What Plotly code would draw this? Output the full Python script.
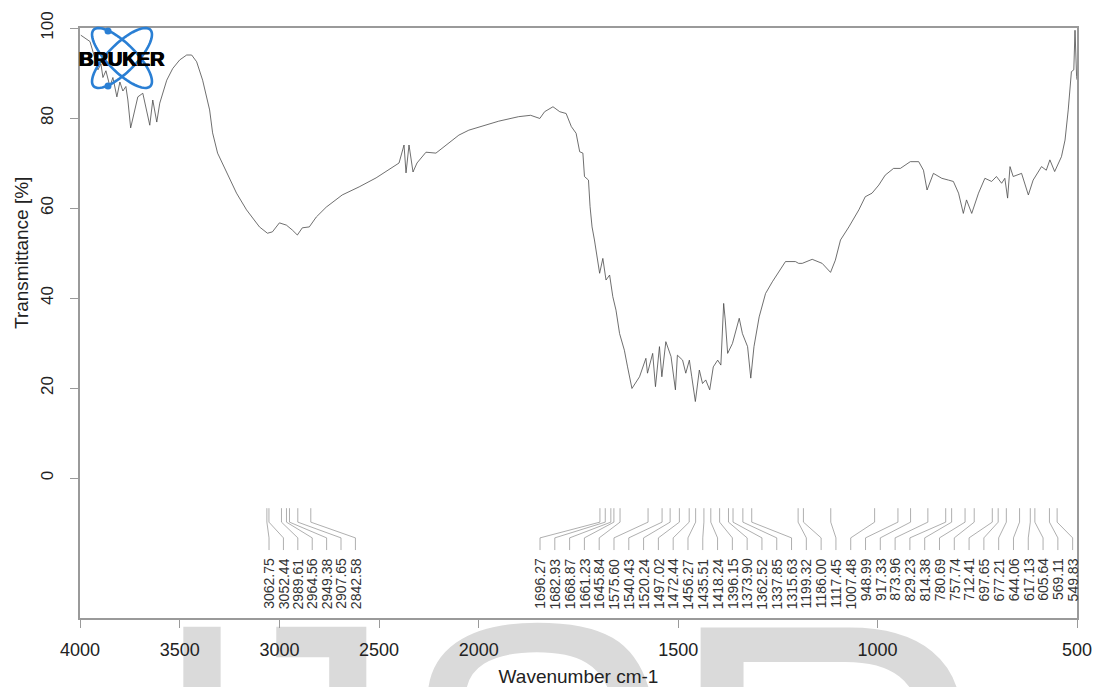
import numpy as np
import plotly.graph_objects as go

# ---------------- data ----------------
wavenumber = [3996, 3975, 3950, 3930, 3910, 3895, 3885, 3870, 3850, 3835, 3815, 3800, 3785, 3770,
              3760, 3746, 3730, 3710, 3685, 3665, 3650, 3635, 3615, 3600, 3585, 3565, 3535, 3500,
              3465, 3440, 3415, 3385, 3350, 3335, 3310, 3265, 3215, 3165, 3100, 3060, 3035, 3000,
              2965, 2935, 2910, 2885, 2850, 2815, 2765, 2685, 2600, 2515, 2435, 2400, 2375, 2365,
              2350, 2330, 2310, 2265, 2215, 2165, 2100, 2050, 2000, 1950, 1900, 1870, 1847, 1835,
              1814, 1797, 1781, 1768, 1756, 1747, 1739, 1735, 1725, 1721, 1716, 1710, 1697, 1689,
              1681, 1672, 1664, 1656, 1647, 1635, 1627, 1616, 1597, 1581, 1577, 1564, 1557, 1547,
              1541, 1531, 1518, 1507, 1502, 1489, 1481, 1472, 1466, 1457, 1447, 1439, 1431, 1421,
              1412, 1401, 1393, 1386, 1382, 1376, 1364, 1347, 1339, 1326, 1318, 1310, 1297, 1281,
              1264, 1247, 1231, 1206, 1198, 1189, 1164, 1139, 1118, 1106, 1093, 1072, 1047, 1031,
              1014, 997, 981, 960, 943, 918, 897, 885, 876, 860, 839, 822, 810, 797, 785, 777, 764,
              747, 731, 714, 702, 689, 681, 674, 668, 660, 639, 622, 610, 589, 577, 568, 556, 539,
              530, 522, 514, 508, 505, 501, 500]
transmittance = [98.4, 97.8, 97.0, 94.0, 90.7, 92.0, 89.0, 90.5, 87.0, 89.0, 84.7, 88.0, 86.0, 87.0,
                 84.0, 77.8, 81.0, 84.7, 85.5, 81.8, 78.4, 84.0, 79.1, 83.3, 85.5, 88.4, 91.0, 92.9,
                 94.0, 94.0, 92.5, 88.4, 81.8, 76.7, 72.2, 67.8, 63.3, 59.6, 55.8, 54.4, 54.7, 56.7,
                 56.2, 55.1, 54.0, 55.6, 55.8, 58.0, 60.2, 62.9, 64.7, 66.7, 68.9, 70.0, 74.0, 67.8,
                 74.0, 68.0, 70.0, 72.4, 72.2, 74.0, 76.2, 77.3, 78.0, 79.3, 80.3, 80.6, 79.9, 81.4,
                 82.5, 81.4, 81.0, 78.1, 76.6, 72.5, 72.2, 67.0, 66.2, 60.3, 55.8, 52.9, 45.5, 48.8,
                 44.0, 45.1, 40.3, 37.3, 32.1, 28.4, 24.7, 19.9, 22.5, 26.6, 23.3, 27.7, 20.3, 29.2,
                 22.5, 30.3, 27.0, 19.6, 27.3, 26.2, 23.3, 26.2, 22.5, 17.0, 24.0, 21.0, 21.8, 19.6,
                 24.7, 26.2, 25.1, 38.8, 35.1, 27.7, 29.9, 35.5, 32.1, 29.2, 22.2, 29.2, 35.8, 41.0,
                 43.6, 45.8, 48.1, 48.1, 47.7, 47.7, 48.6, 47.7, 45.7, 48.4, 52.9, 55.8, 59.6, 62.5,
                 63.3, 65.1, 67.3, 68.8, 68.8, 70.3, 70.3, 68.4, 64.0, 67.7, 66.6, 66.2, 65.9, 63.3,
                 58.8, 61.8, 58.8, 63.3, 66.6, 65.9, 67.0, 65.5, 66.6, 62.2, 69.2, 67.0, 67.7, 62.9,
                 66.2, 69.2, 68.4, 70.7, 68.1, 71.4, 75.1, 81.8, 90.3, 90.7, 99.5, 89.2, 88.5]

peak_labels = ["3062.75", "3052.44", "2989.61", "2964.56", "2949.38", "2907.65", "2842.58",
               "1696.27", "1682.93", "1668.87", "1661.23", "1645.84", "1575.60", "1540.43",
               "1520.24", "1497.02", "1472.44", "1456.27", "1435.51", "1418.24", "1396.15",
               "1373.90", "1362.52", "1337.85", "1315.63", "1199.32", "1186.00", "1117.45",
               "1007.48", "948.99", "917.33", "873.96", "829.23", "814.38", "780.69", "757.74",
               "712.41", "697.65", "677.21", "644.06", "617.13", "605.64", "569.11", "549.83"]

x_ticks = [4000, 3500, 3000, 2500, 2000, 1500, 1000, 500]
y_ticks = [0, 20, 40, 60, 80, 100]

watermark_letters = ["I", "J", "S", "R"]


# OPUS style axis: scale halves above 2000 cm-1
def axis_pos(w):
    w = np.asarray(w, dtype=float)
    return np.where(w <= 2000, w, 2000 + (w - 2000) / 2.0)


# ---------------- layout constants ----------------
W, H = 1094, 687
ML, MR, MT, MB = 80, 17, 28, 69
PW, PH = W - ML - MR, H - MT - MB
Y_MIN, Y_MAX = -31.1, 100
LINE_GRAY = "#9a9a9a"
FONT = "Liberation Sans, Arial, sans-serif"

# label groups: (first index, end index, start position, step) in axis units
label_groups = [(0, 7, 2526.0, 36.1), (7, 44, 1846.5, 37.1)]
leader_levels = [-6.7, -9.8, -13.3, -16.0]
label_top = -17.6

# watermark letters: centre px, font size, box top px
wm_centres = [202, 296, 535, 829]
wm_sizes = [400, 400, 420, 460]
wm_box_tops = [502, 502, 496, 484]


def px2paper(x, y):
    return (x - ML) / PW, (H - MB - y) / PH


fig = go.Figure()

fig.add_trace(go.Scatter(
    x=axis_pos(wavenumber), y=transmittance, mode="lines",
    line=dict(color="#4a4a4a", width=0.8), hoverinfo="skip", showlegend=False))

# peak leader lines + labels
peak_vals = [float(s) for s in peak_labels]
peak_u = axis_pos(peak_vals)
lx, ly = [], []
annotations = []
for i0, i1, start, step in label_groups:
    for k, i in enumerate(range(i0, i1)):
        lab_u = start - k * step
        lx += [peak_u[i], peak_u[i], lab_u, lab_u, None]
        ly += leader_levels + [None]
        annotations.append(dict(
            x=lab_u, y=label_top, xref="x", yref="y", text=peak_labels[i],
            textangle=-90, showarrow=False, xanchor="center", yanchor="top",
            font=dict(family=FONT, size=14, color="#333333"), borderpad=0))

fig.add_trace(go.Scatter(x=lx, y=ly, mode="lines", line=dict(color="#8c8c8c", width=0.7),
                         hoverinfo="skip", showlegend=False))

# y axis title (centred on the 0-100 span)
tx, _ = px2paper(21, 0)
annotations.append(dict(x=tx, y=50, xref="paper", yref="y", text="Transmittance [%]",
                        textangle=-90, showarrow=False, xanchor="center", yanchor="middle",
                        font=dict(family=FONT, size=19, color="#222222")))

# ---------------- Bruker logo ----------------
shapes = []
cx, cy, a, b = 122, 58, 40, 14
t = np.linspace(0, 2 * np.pi, 73)
for ang in (45, -45):
    th = np.deg2rad(ang)
    ex = cx + a * np.cos(t) * np.cos(th) - b * np.sin(t) * np.sin(th)
    ey = cy + a * np.cos(t) * np.sin(th) + b * np.sin(t) * np.cos(th)
    pts = [px2paper(x, y) for x, y in zip(ex, ey)]
    path = "M " + " L ".join(f"{p[0]:.5f},{p[1]:.5f}" for p in pts) + " Z"
    shapes.append(dict(type="path", xref="paper", yref="paper", path=path,
                       line=dict(color="#2a7fd4", width=2.6), layer="above"))
for dx, dy in ((108, 31), (108, 86)):
    x0, y0 = px2paper(dx - 3.5, dy + 3.5)
    x1, y1 = px2paper(dx + 3.5, dy - 3.5)
    shapes.append(dict(type="circle", xref="paper", yref="paper", x0=x0, y0=y0, x1=x1, y1=y1,
                       fillcolor="#2a7fd4", line=dict(width=0), layer="above"))

lx0, ly0 = px2paper(122, 59)
annotations.append(dict(x=lx0, y=ly0, xref="paper", yref="paper", text="<b>BRUKER</b>",
                        showarrow=False, xanchor="center", yanchor="middle",
                        font=dict(family=FONT, size=20, color="#000000",
                                  shadow="0.7px 0 0 #000, -0.7px 0 0 #000")))

# ---------------- watermark ----------------
for letter, xc, fs, top in zip(watermark_letters, wm_centres, wm_sizes, wm_box_tops):
    x0, y0 = px2paper(xc - 260, H - 1)
    x1, y1 = px2paper(xc + 260, top)
    shapes.append(dict(type="rect", xref="paper", yref="paper", x0=x0, x1=x1, y0=y0, y1=y1,
                       line=dict(width=0), fillcolor="rgba(0,0,0,0)", layer="below",
                       label=dict(text=letter, textposition="top center", padding=0,
                                  font=dict(family=FONT, size=fs, color="#dadada"))))

fig.update_layout(
    width=W, height=H, margin=dict(l=ML, r=MR, t=MT, b=MB, autoexpand=False),
    paper_bgcolor="white", plot_bgcolor="white",
    shapes=shapes, annotations=annotations, showlegend=False,
    font=dict(family=FONT, color="#222222"),
    xaxis=dict(range=[3000, 500], tickvals=list(axis_pos(x_ticks)),
               ticktext=[str(v) for v in x_ticks], showgrid=False, zeroline=False,
               showline=True, linecolor=LINE_GRAY, linewidth=1.5, mirror=True,
               ticks="outside", ticklen=8, tickcolor=LINE_GRAY, tickwidth=1.2,
               ticklabelstandoff=7, automargin=False,
               tickfont=dict(size=18, color="#222222"),
               title=dict(text="Wavenumber cm-1", font=dict(size=19, color="#222222"),
                          standoff=16)),
    yaxis=dict(range=[Y_MIN, Y_MAX], tickvals=y_ticks, showgrid=False, zeroline=False,
               showline=True, linecolor=LINE_GRAY, linewidth=1.5, mirror=True,
               ticks="outside", ticklen=8, tickcolor=LINE_GRAY, tickwidth=1.2,
               tickangle=-90, ticklabelstandoff=10, automargin=False,
               tickfont=dict(size=17, color="#222222")),
)

fig.write_html("out.html",
               config={"displayModeBar": False, "responsive": False},
               post_script="document.body.style.margin='0';"
                           "document.documentElement.style.overflow='hidden';")
